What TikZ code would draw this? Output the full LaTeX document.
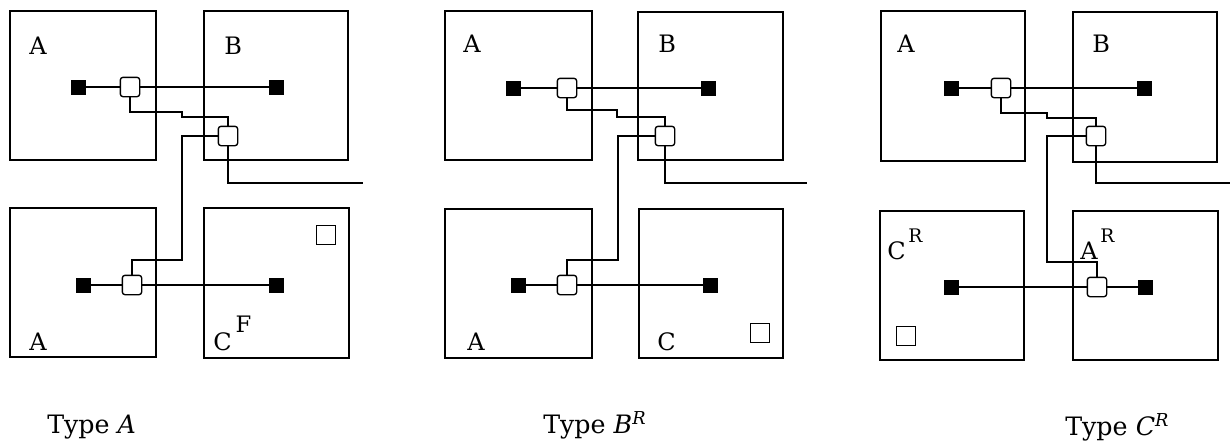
\documentclass[tikz,border=0pt]{standalone}
\usepackage{fontspec}
\setmainfont{DejaVu Serif}
\begin{document}
\begin{tikzpicture}[x=0.75pt,y=-0.75pt,
  bigbox/.style={line width=1.5pt},
  wire/.style={line width=1pt},
  pin/.style={draw=black,fill=black,minimum size=10.5pt,inner sep=0pt,outer sep=0pt},
  hub/.style={draw=black,fill=white,line width=1pt,rounded corners=2pt,minimum size=14.5pt,inner sep=0pt,outer sep=0pt},
  pad/.style={draw=black,fill=white,line width=1pt,minimum size=14.5pt,inner sep=0pt},
  lbl/.style={anchor=base west,inner sep=0pt,font=\fontsize{18}{21}\selectfont},
  captext/.style={anchor=base west,inner sep=0pt,font=\fontsize{19}{22}\selectfont}]
\useasboundingbox (0,0) rectangle (1230,444);

% ---------- Panel 1: Type A ----------
\draw[bigbox] (10,11) rectangle (156,160);
\draw[bigbox] (204,11) rectangle (348,160);
\draw[bigbox] (10,208) rectangle (156,357);
\draw[bigbox] (204,208) rectangle (349,358);
\node[lbl] (la1) at (29,54) {A};
\node[lbl] (lb1) at (224,54) {B};
\node[lbl] (la1b) at (29,350) {A};
\node[lbl] (lc1) at (213,350) {C\hspace{3pt}\raisebox{13pt}{\fontsize{17}{20}\selectfont F}};
\node[pin] (p1a) at (78,87) {};
\node[hub] (h1a) at (130,87) {};
\node[pin] (p1b) at (276,87) {};
\node[hub] (h1b) at (228,136) {};
\node[pin] (p1c) at (83,285) {};
\node[hub] (h1c) at (132,285) {};
\node[pin] (p1d) at (276,285) {};
\node[pad] (q1) at (326,235) {};
\coordinate (k1a) at (182,112);
\coordinate (k1b) at (228,117);
\coordinate (k1c) at (182,260);
\coordinate (e1) at (363,183);
\draw[wire] (p1a) -- (h1a);
\draw[wire] (h1a) -- (p1b);
\draw[wire] (h1a.south) |- (k1a) |- (k1b) -- (h1b.north);
\draw[wire] (h1b.west) -| (k1c) -| (h1c.north);
\draw[wire] (h1b.south) |- (e1);
\draw[wire] (p1c) -- (h1c);
\draw[wire] (h1c) -- (p1d);
\node[captext] (t1) at (47,433) {Type \textit{A}};

% ---------- Panel 2: Type B^R ----------
\draw[bigbox] (445,11) rectangle (592,160);
\draw[bigbox] (638,12) rectangle (783,160);
\draw[bigbox] (445,209) rectangle (592,358);
\draw[bigbox] (639,209) rectangle (783,358);
\node[lbl] (la2) at (463,52) {A};
\node[lbl] (lb2) at (658,52) {B};
\node[lbl] (la2b) at (467,350) {A};
\node[lbl] (lc2) at (657,350) {C};
\node[pin] (p2a) at (513,88) {};
\node[hub] (h2a) at (567,88) {};
\node[pin] (p2b) at (708,88) {};
\node[hub] (h2b) at (665,136) {};
\node[pin] (p2c) at (518,285) {};
\node[hub] (h2c) at (567,285) {};
\node[pin] (p2d) at (710,285) {};
\node[pad] (q2) at (760,333) {};
\coordinate (k2a) at (617,110);
\coordinate (k2b) at (665,117);
\coordinate (k2c) at (618,260);
\coordinate (e2) at (807,183);
\draw[wire] (p2a) -- (h2a);
\draw[wire] (h2a) -- (p2b);
\draw[wire] (h2a.south) |- (k2a) |- (k2b) -- (h2b.north);
\draw[wire] (h2b.west) -| (k2c) -| (h2c.north);
\draw[wire] (h2b.south) |- (e2);
\draw[wire] (p2c) -- (h2c);
\draw[wire] (h2c) -- (p2d);
\node[captext] (t2) at (543,433) {Type \textit{B}\textsuperscript{\textit{R}}};

% ---------- Panel 3: Type C^R ----------
\draw[bigbox] (881,11) rectangle (1025,161);
\draw[bigbox] (1073,12) rectangle (1217,162);
\draw[bigbox] (880,211) rectangle (1024,360);
\draw[bigbox] (1073,211) rectangle (1218,360);
\node[lbl] (la3) at (897,52) {A};
\node[lbl] (lb3) at (1092,52) {B};
\node[lbl] (lc3) at (887,259) {C\hspace{2pt}\raisebox{12.5pt}{\fontsize{14}{16}\selectfont R}};
\node[lbl] (la3b) at (1080,259) {A\hspace{2pt}\raisebox{12.5pt}{\fontsize{14}{16}\selectfont R}};
\node[pin] (p3a) at (951,88) {};
\node[hub] (h3a) at (1001,88) {};
\node[pin] (p3b) at (1144,88) {};
\node[hub] (h3b) at (1096,136) {};
\node[pin] (p3c) at (951,287) {};
\node[hub] (h3c) at (1097,287) {};
\node[pin] (p3d) at (1145,287) {};
\node[pad] (q3) at (906,336) {};
\coordinate (k3a) at (1047,113);
\coordinate (k3b) at (1096,118);
\coordinate (k3c) at (1047,262);
\coordinate (e3) at (1230,183);
\draw[wire] (p3a) -- (h3a);
\draw[wire] (h3a) -- (p3b);
\draw[wire] (h3a.south) |- (k3a) |- (k3b) -- (h3b.north);
\draw[wire] (h3b.west) -| (k3c) -| (h3c.north);
\draw[wire] (h3b.south) |- (e3);
\draw[wire] (p3c) -- (h3c);
\draw[wire] (h3c) -- (p3d);
\node[captext] (t3) at (1065,435) {Type \textit{C}\textsuperscript{\textit{R}}};
\end{tikzpicture}
\end{document}
